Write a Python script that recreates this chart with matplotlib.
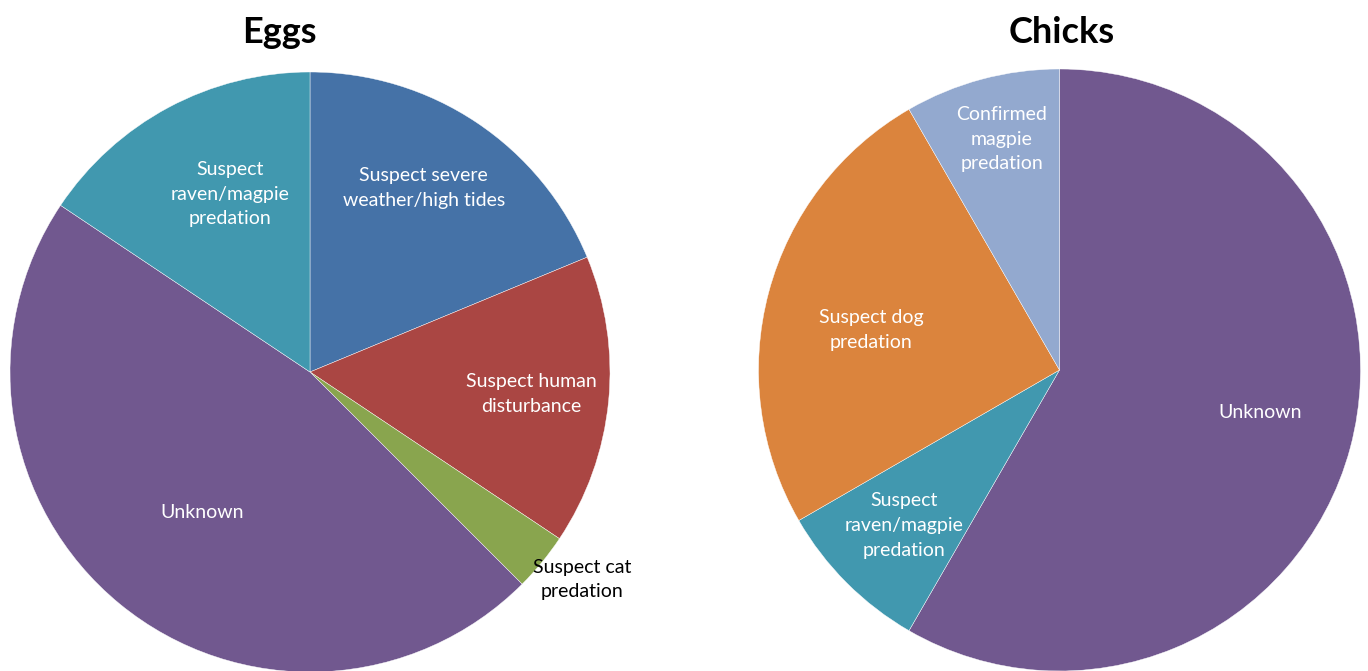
import matplotlib
matplotlib.use("Agg")
import matplotlib.pyplot as plt
import numpy as np

plt.rcParams['font.family'] = ['Lato', 'DejaVu Sans']

# Data
egg_labels = ["Suspect severe\nweather/high tides", "Suspect human\ndisturbance",
              "Suspect cat\npredation", "Unknown", "Suspect\nraven/magpie\npredation"]
egg_values = [6, 5, 1, 15, 5]
egg_colors = ["#4572A7", "#AA4643", "#89A54E", "#71588F", "#4198AF"]
egg_label_colors = ["white", "white", "black", "white", "white"]

chick_labels = ["Unknown", "Suspect\nraven/magpie\npredation", "Suspect dog\npredation",
                "Confirmed\nmagpie\npredation"]
chick_values = [7, 1, 3, 1]
chick_colors = ["#71588F", "#4198AF", "#DB843D", "#93A9CF"]
chick_label_colors = ["white", "white", "white", "white"]

W, H = 1368, 671
fig = plt.figure(figsize=(W / 100, H / 100), dpi=100)


def make_pie(cx, cy, r, values, labels, colors, lcolors, dists, offs, title, tx):
    ax = fig.add_axes([(cx - r) / W, (H - cy - r) / H, 2 * r / W, 2 * r / H])
    wedges, _ = ax.pie(values, colors=colors, startangle=90, counterclock=False,
                       radius=1, wedgeprops=dict(edgecolor="white", linewidth=0.3))
    for w, lab, lc, d, o in zip(wedges, labels, lcolors, dists, offs):
        ang = np.deg2rad((w.theta1 + w.theta2) / 2 + o)
        ax.text(d * np.cos(ang), d * np.sin(ang), lab, ha="center", va="center",
                color=lc, fontsize=14, linespacing=1.55)
    ax.set_xlim(-1, 1)
    ax.set_ylim(-1, 1)
    ax.set_aspect("auto")
    ax.axis("off")
    fig.text(tx / W, (H - 43) / H, title, ha="center", va="baseline",
             fontsize=26, fontweight="bold")


make_pie(310, 372, 300, egg_values, egg_labels, egg_colors, egg_label_colors,
         [0.72, 0.74, 1.14, 0.59, 0.65], [2, 0, 2, 2, -4], "Eggs", 279)
make_pie(1059.5, 370, 301, chick_values, chick_labels, chick_colors, chick_label_colors,
         [0.68, 0.73, 0.64, 0.79], [3, 0, 3, -1], "Chicks", 1062)

fig.savefig("out.png", dpi=100)
